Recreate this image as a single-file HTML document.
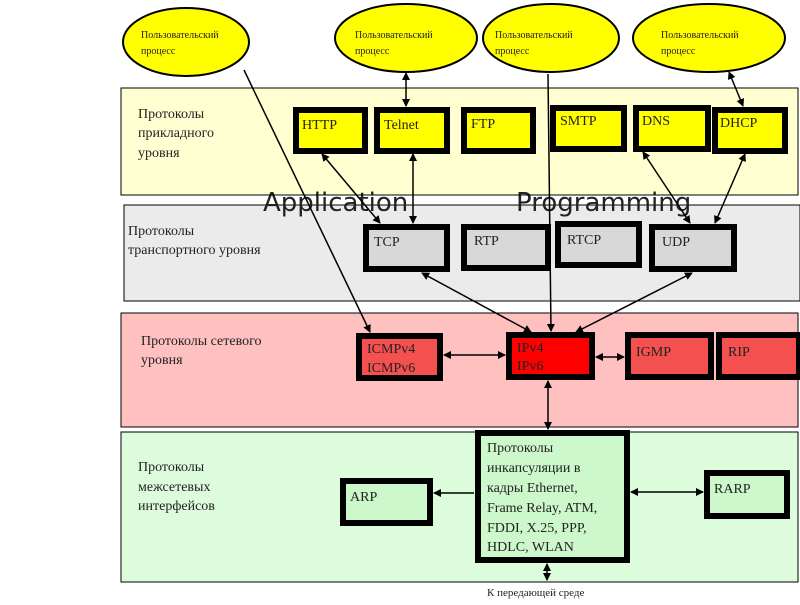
<!DOCTYPE html>
<html><head><meta charset="utf-8"><style>
html,body{margin:0;padding:0;background:#fff;}
svg text{font-family:"Liberation Serif","DejaVu Serif",serif;fill:#222;}
.s{font-family:"DejaVu Sans","Liberation Sans",sans-serif !important;}
</style></head><body>
<svg width="800" height="600" viewBox="0 0 800 600" xmlns="http://www.w3.org/2000/svg">
<defs>
<marker id="a" markerWidth="8" markerHeight="8" refX="7" refY="4" orient="auto-start-reverse" markerUnits="userSpaceOnUse"><path d="M0,0 L8,4 L0,8 z" fill="#000"/></marker>
</defs>
<rect x="121" y="88" width="677" height="107" fill="#ffffd2" stroke="#000" stroke-width="1"/>
<rect x="124" y="205" width="676" height="96" fill="#ebebeb" stroke="#000" stroke-width="1"/>
<rect x="121" y="313" width="677" height="114" fill="#ffc0c0" stroke="#000" stroke-width="1"/>
<rect x="121" y="432" width="677" height="150" fill="#dcfcdc" stroke="#000" stroke-width="1"/>
<g font-size="14">
<text x="138" y="118">Протоколы</text><text x="138" y="137">прикладного</text><text x="138" y="157">уровня</text>
<text x="128" y="235">Протоколы</text><text x="128" y="254">транспортного  уровня</text>
<text x="141" y="345">Протоколы сетевого</text><text x="141" y="364">уровня</text>
<text x="138" y="471">Протоколы</text><text x="138" y="491">межсетевых</text><text x="138" y="510">интерфейсов</text>
</g>
<g fill="#ffff00" stroke="#000" stroke-width="2">
<ellipse cx="186" cy="42" rx="63" ry="34"/>
<ellipse cx="406" cy="38" rx="71" ry="34"/>
<ellipse cx="551" cy="38" rx="68" ry="34"/>
<ellipse cx="709" cy="38" rx="76" ry="34"/>
</g>
<g font-size="10">
<text x="141" y="38">Пользовательский</text><text x="141" y="54">процесс</text>
<text x="355" y="38">Пользовательский</text><text x="355" y="54">процесс</text>
<text x="495" y="38">Пользовательский</text><text x="495" y="54">процесс</text>
<text x="661" y="38">Пользовательский</text><text x="661" y="54">процесс</text>
</g>
<g fill="#ffff00" stroke="#000" stroke-width="6">
<rect x="296" y="110" width="69" height="41"/>
<rect x="377" y="110" width="70" height="41"/>
<rect x="464" y="110" width="69" height="41"/>
<rect x="553" y="108" width="71" height="41"/>
<rect x="636" y="108" width="72" height="41"/>
<rect x="715" y="110" width="70" height="41"/>
</g>
<g font-size="14">
<text x="302" y="129">HTTP</text><text x="384" y="129">Telnet</text><text x="471" y="128">FTP</text>
<text x="560" y="125">SMTP</text><text x="642" y="125">DNS</text><text x="720" y="127">DHCP</text>
</g>
<g fill="#d8d8d8" stroke="#000" stroke-width="6">
<rect x="366" y="227" width="81" height="42"/>
<rect x="464" y="227" width="84" height="41"/>
<rect x="558" y="224" width="81" height="41"/>
<rect x="652" y="227" width="82" height="42"/>
</g>
<g font-size="14">
<text x="374" y="246">TCP</text><text x="474" y="245">RTP</text><text x="567" y="244">RTCP</text><text x="662" y="246">UDP</text>
</g>
<g stroke="#000" stroke-width="6">
<rect x="359" y="336" width="81" height="42" fill="#f45050"/>
<rect x="509" y="335" width="83" height="42" fill="#ff0000"/>
<rect x="628" y="335" width="83" height="42" fill="#f45050"/>
<rect x="719" y="335" width="80" height="42" fill="#f45050"/>
</g>
<g font-size="14">
<text x="367" y="353">ICMPv4</text><text x="367" y="372">ICMPv6</text>
<text x="517" y="352" fill="#700">IPv4</text><text x="517" y="370" fill="#700">IPv6</text>
<text x="636" y="356">IGMP</text><text x="728" y="356">RIP</text>
</g>
<g fill="#ccf8cc" stroke="#000" stroke-width="6">
<rect x="478" y="433" width="149" height="127"/>
<rect x="343" y="481" width="87" height="42"/>
<rect x="707" y="473" width="80" height="43"/>
</g>
<g font-size="14">
<text x="487" y="452">Протоколы</text><text x="487" y="472">инкапсуляции в</text><text x="487" y="492">кадры Ethernet,</text>
<text x="487" y="512">Frame Relay, ATM,</text><text x="487" y="532">FDDI, X.25, PPP,</text><text x="487" y="551">HDLC, WLAN</text>
<text x="350" y="501">ARP</text><text x="714" y="493">RARP</text>
</g>
<text class="s" x="263" y="211" font-size="26" fill="#111">Application</text>
<text class="s" x="516" y="211" font-size="26" fill="#111">Programming</text>
<line x1="121" y1="195" x2="798" y2="195" stroke="#000" stroke-width="1"/>
<g stroke="#000" stroke-width="1.5" fill="none">
<line x1="244" y1="70" x2="370" y2="332" marker-end="url(#a)"/>
<line x1="406" y1="73" x2="406" y2="106" marker-start="url(#a)" marker-end="url(#a)"/>
<line x1="548" y1="74" x2="551" y2="331" marker-end="url(#a)"/>
<line x1="729" y1="72" x2="743" y2="106" marker-start="url(#a)" marker-end="url(#a)"/>
<line x1="322" y1="154" x2="380" y2="223" marker-start="url(#a)" marker-end="url(#a)"/>
<line x1="413" y1="154" x2="413" y2="223" marker-start="url(#a)" marker-end="url(#a)"/>
<line x1="643" y1="152" x2="690" y2="223" marker-start="url(#a)" marker-end="url(#a)"/>
<line x1="745" y1="154" x2="715" y2="223" marker-start="url(#a)" marker-end="url(#a)"/>
<line x1="422" y1="273" x2="531" y2="332" marker-start="url(#a)" marker-end="url(#a)"/>
<line x1="692" y1="273" x2="576" y2="332" marker-start="url(#a)" marker-end="url(#a)"/>
<line x1="444" y1="355" x2="505" y2="355" marker-start="url(#a)" marker-end="url(#a)"/>
<line x1="596" y1="357" x2="624" y2="357" marker-start="url(#a)" marker-end="url(#a)"/>
<line x1="548" y1="381" x2="548" y2="429" marker-start="url(#a)" marker-end="url(#a)"/>
<line x1="474" y1="493" x2="434" y2="493" marker-end="url(#a)"/>
<line x1="631" y1="492" x2="703" y2="492" marker-start="url(#a)" marker-end="url(#a)"/>
<line x1="547" y1="564" x2="547" y2="580" marker-start="url(#a)" marker-end="url(#a)"/>
</g>
<text x="487" y="596" font-size="11">К передающей среде</text>
</svg>
</body></html>
